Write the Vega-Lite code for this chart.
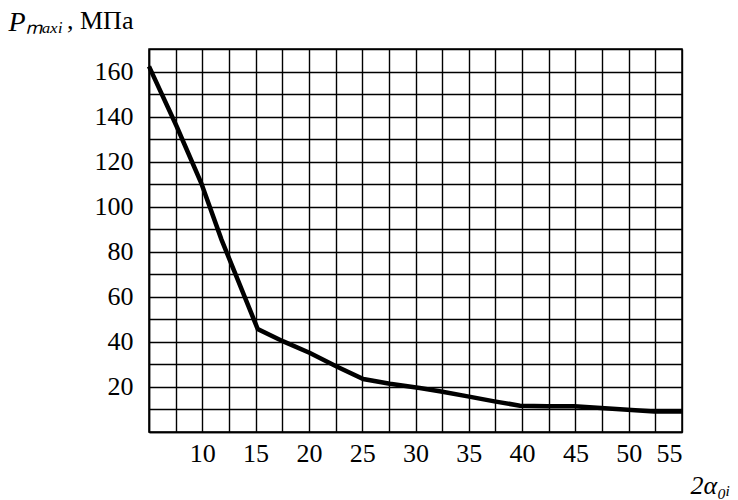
{
  "$schema": "https://vega.github.io/schema/vega-lite/v6.json",
  "width": 533,
  "height": 383,
  "autosize": "none",
  "padding": {"left": 149, "top": 49, "right": 56, "bottom": 68},
  "background": "white",
  "title": {
    "text": ", МПа",
    "anchor": "start",
    "frame": "group",
    "orient": "top",
    "font": "Liberation Serif",
    "fontSize": 26,
    "fontWeight": "normal",
    "color": "black",
    "baseline": "alphabetic",
    "offset": 0,
    "dx": -82,
    "dy": 47
  },
  "data": {
    "values": [
      {"a": 5, "p": 162.3},
      {"a": 7.6, "p": 135.6},
      {"a": 9.9, "p": 110.5},
      {"a": 11.8, "p": 85.4},
      {"a": 15.2, "p": 45.7},
      {"a": 17.6, "p": 40.2},
      {"a": 20.1, "p": 35.1},
      {"a": 22.6, "p": 29.1},
      {"a": 25.1, "p": 23.5},
      {"a": 27.6, "p": 21.4},
      {"a": 30.4, "p": 19.5},
      {"a": 32.4, "p": 18.0},
      {"a": 34.9, "p": 15.8},
      {"a": 37.4, "p": 13.6},
      {"a": 39.8, "p": 11.7},
      {"a": 42.4, "p": 11.4},
      {"a": 44.9, "p": 11.4},
      {"a": 47.4, "p": 10.6},
      {"a": 49.9, "p": 9.9},
      {"a": 52.4, "p": 9.1},
      {"a": 55, "p": 9.1}
    ]
  },
  "mark": {"type": "line", "color": "black", "strokeWidth": 4.5, "strokeJoin": "miter"},
  "encoding": {
    "x": {
      "field": "a",
      "type": "quantitative",
      "scale": {"domain": [5, 55], "nice": false, "zero": false},
      "axis": {
        "values": [5, 7.5, 10, 12.5, 15, 17.5, 20, 22.5, 25, 27.5, 30, 32.5, 35, 37.5, 40, 42.5, 45, 47.5, 50, 52.5, 55],
        "labelExpr": "datum.value % 5 === 0 && datum.value > 5 ? format(datum.value, 'd') : ''",
        "labelFlush": true,
        "labelDx": -5,
        "labelPadding": 8,
        "labelBaseline": "top",
        "ticks": false,
        "domainColor": "black",
        "domainWidth": 1.5,
        "grid": true,
        "gridColor": "black",
        "gridWidth": 1.4,
        "gridOpacity": 1,
        "title": "2α₀ᵢ",
        "titleFontStyle": "italic",
        "titleFontWeight": "normal",
        "titleFontSize": 26,
        "titleColor": "black",
        "titleAlign": "left",
        "titleBaseline": "alphabetic",
        "titleX": 541,
        "titleY": 61
      }
    },
    "y": {
      "field": "p",
      "type": "quantitative",
      "scale": {"domain": [0, 170], "nice": false},
      "axis": {
        "values": [0, 10, 20, 30, 40, 50, 60, 70, 80, 90, 100, 110, 120, 130, 140, 150, 160, 170],
        "labelExpr": "datum.value % 20 === 0 && datum.value > 0 ? format(datum.value, 'd') : ''",
        "labelPadding": 16,
        "labelDy": 2,
        "ticks": false,
        "domainColor": "black",
        "domainWidth": 1.5,
        "grid": true,
        "gridColor": "black",
        "gridWidth": 1.4,
        "gridOpacity": 1,
        "title": "Pₘₐₓᵢ",
        "titleFontStyle": "italic",
        "titleFontWeight": "normal",
        "titleFontSize": 28,
        "titleColor": "black",
        "titleAngle": 0,
        "titleAlign": "left",
        "titleBaseline": "alphabetic",
        "titleX": -141,
        "titleY": -19
      }
    }
  },
  "config": {
    "font": "Liberation Serif",
    "axis": {
      "labelFont": "Liberation Serif",
      "labelFontSize": 26,
      "labelColor": "black",
      "titleFont": "Liberation Serif"
    },
    "view": {"stroke": "black", "strokeWidth": 1.5}
  }
}
